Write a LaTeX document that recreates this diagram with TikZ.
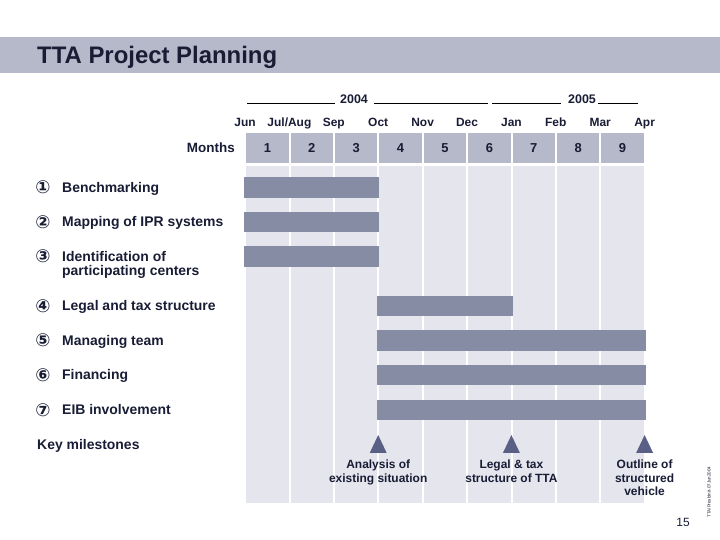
\documentclass[tikz,border=0pt]{standalone}
\usepackage{fontspec}
\setmainfont{Liberation Sans}
\newfontfamily\symfont{DejaVu Sans}
\usepackage{tikz}
\usetikzlibrary{positioning}

\definecolor{bandblue}{RGB}{181,185,202}
\definecolor{colgray}{RGB}{229,230,237}
\definecolor{bargray}{RGB}{135,140,165}
\definecolor{msblue}{RGB}{90,96,133}
\definecolor{inkblue}{RGB}{24,28,52}

\tikzset{
  every node/.style={text=inkblue, inner sep=0pt},
  hdrcell/.style={fill=bandblue, minimum width=42.3bp, minimum height=30bp, anchor=north west,
    font=\fontsize{13}{15}\selectfont\bfseries},
  column/.style={fill=colgray, minimum width=42.3bp, minimum height=337bp, anchor=north west},
  taskbar/.style={fill=bargray, minimum height=20.5bp, anchor=west},
  tasklbl/.style={anchor=base west, font=\fontsize{14}{14.5}\selectfont\bfseries},
  tasknum/.style={font=\symfont\bfseries\fontsize{18}{18}\selectfont},
  monthlbl/.style={anchor=base, font=\fontsize{12}{14}\selectfont\bfseries},
  yearlbl/.style={font=\fontsize{12.5}{14}\selectfont\bfseries},
  yearrule/.style={draw=black, line width=0.9bp},
  milestone/.style={fill=msblue},
  mslbl/.style={align=center, font=\fontsize{12}{13.3}\selectfont\bfseries}
}

\begin{document}
\begin{tikzpicture}[x=1bp,y=1bp]
\useasboundingbox (0,0) rectangle (720,540);

% title band
\fill[bandblue] (0,467) rectangle (720,503);
\node[anchor=base west, font=\fontsize{24}{28}\selectfont\bfseries] (title) at (37,476) {TTA Project Planning};

% years
\node[yearlbl] (y2004) at (354,441) {2004};
\node[yearlbl] (y2005) at (582,441) {2005};
\draw[yearrule] (247,437) -- (335,437);
\draw[yearrule] (374,437) -- (488,437);
\draw[yearrule] (492,437) -- (561,437);
\draw[yearrule] (598,437) -- (638,437);

% month names on the column borders
\foreach \m [count=\k from 0] in {Jun,Jul/Aug,Sep,Oct,Nov,Dec,Jan,Feb,Mar,Apr}
  \node[monthlbl] (mon\k) at ({245+44.4*\k},413.3) {\m};

% month cells and columns
\foreach \i in {1,...,9} {
  \node[hdrcell] (hdr\i) at ({246+44.4*(\i-1)},407) {\i};
  \node[column] (col\i) at ({246+44.4*(\i-1)},374) {};
}
\node[left=11bp of hdr1, font=\fontsize{13.5}{15}\selectfont\bfseries] (monthsLbl) {Months};

% bars
\foreach \n/\a/\b/\yc in {1/0/3/352.5, 2/0/3/318, 3/0/3/283.5, 4/3/6/234, 5/3/9/199.5, 6/3/9/165, 7/3/9/130}
  \node[taskbar, minimum width={(44.4*(\b-\a)+2)*1bp}] (bar\n) at ({245+44.4*\a-1},\yc) {};

% task labels
\foreach \n/\g/\yc/\txt in {1/①/352.5/Benchmarking, 2/②/318/Mapping of IPR systems,
    4/④/234/Legal and tax structure, 5/⑤/199.5/Managing team,
    6/⑥/165/Financing, 7/⑦/130/EIB involvement} {
  \node[tasknum] (num\n) at (43,\yc) {\g};
  \node[tasklbl] (task\n) at (62,{\yc-4.8}) {\txt};
}
\node[tasknum] (num3) at (43,283.5) {③};
\node[tasklbl, anchor=north west, align=left] (task3) at (62,288.8) {Identification of\\participating centers};

% milestones
\node[tasklbl] (keyms) at (37,90.7) {Key milestones};
\foreach \n/\k in {A/3,B/6,C/9} {
  \coordinate (ms\n) at ({245+44.4*\k},87);
  \fill[milestone] (ms\n) ++(-8.5,0) -- ++(17,0) -- ++(-8.5,18) -- cycle;
}
\node[mslbl, below=7bp of msA] (msAtxt) {Analysis of\\existing situation};
\node[mslbl, below=7bp of msB] (msBtxt) {Legal \& tax\\structure of TTA};
\node[mslbl, below=7bp of msC] (msCtxt) {Outline of\\structured\\vehicle};

% footer
\node[font=\fontsize{12}{14}\selectfont] (page) at (683,18) {15};
\node[rotate=90, font=\fontsize{4.5}{5}\selectfont] (stamp) at (709,48) {TTA/PresbInit-07Jun2004};
\end{tikzpicture}
\end{document}
